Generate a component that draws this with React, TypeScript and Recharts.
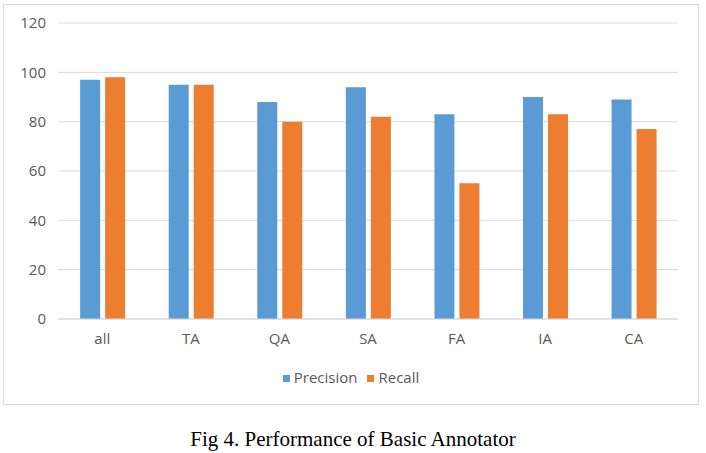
import { BarChart, Bar, XAxis, YAxis, CartesianGrid, Legend } from "recharts";

const categories = ["all", "TA", "QA", "SA", "FA", "IA", "CA"];
const precision = [97, 95, 88, 94, 83, 90, 89];
const recall = [98, 95, 80, 82, 55, 83, 77];
const yTicks = [0, 20, 40, 60, 80, 100, 120];

const data = categories.map((name, i) => ({
  name,
  Precision: precision[i],
  Recall: recall[i],
}));

const FONT = "'Open Sans', 'Liberation Sans', sans-serif";

export default function App() {
  return (
    <div style={{ position: "absolute", left: 0, top: 0, width: 706, height: 453, background: "#fff" }}>
      <div
        style={{
          position: "absolute",
          left: 3,
          top: 4,
          width: 694,
          height: 399,
          border: "1px solid #d9d9d9",
        }}
      >
        <BarChart
          width={694}
          height={399}
          data={data}
          margin={{ top: 18, right: 20, left: 0, bottom: 35 }}
          barGap={5}
          barCategoryGap="25%"
        >
          <CartesianGrid vertical={false} stroke="#d9d9d9" strokeWidth={1} />
          <XAxis
            dataKey="name"
            axisLine={{ stroke: "#d9d9d9" }}
            tickLine={false}
            tickSize={0}
            tickMargin={14}
            tick={{ fill: "#595959", fontSize: 15, fontFamily: FONT }}
          />
          <YAxis
            width={54}
            domain={[0, 120]}
            ticks={yTicks}
            axisLine={false}
            tickLine={false}
            tickSize={0}
            tickMargin={12}
            tick={{ fill: "#595959", fontSize: 15, fontFamily: FONT }}
          />
          <Legend
            iconType="square"
            iconSize={7}
            wrapperStyle={{ top: 362, left: 15, fontFamily: FONT, fontSize: 15 }}
            formatter={(v: string) => <span style={{ color: "#595959" }}>{v}</span>}
          />
          <Bar dataKey="Precision" fill="#5b9bd5" isAnimationActive={false} />
          <Bar dataKey="Recall" fill="#ed7d31" isAnimationActive={false} />
        </BarChart>
      </div>
      <div
        style={{
          position: "absolute",
          left: 0,
          top: 427,
          width: 706,
          textAlign: "center",
          fontFamily: "'Liberation Serif', 'Times New Roman', serif",
          fontSize: 21,
          color: "#000",
        }}
      >
        Fig 4. Performance of Basic Annotator
      </div>
    </div>
  );
}
